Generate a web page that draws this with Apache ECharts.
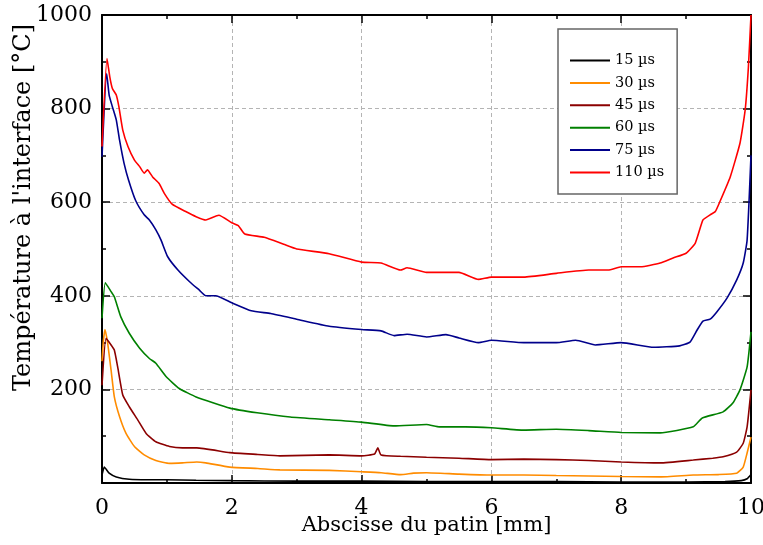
<!DOCTYPE html>
<html>
<head>
<meta charset="utf-8">
<script src="https://cdn.jsdelivr.net/npm/echarts@6/dist/echarts.min.js"></script>
<style>
  html, body { margin: 0; padding: 0; background: #fff; }
  #chart { width: 763px; height: 545px; }
</style>
</head>
<body>
<div id="chart"></div>
<script>
// abscisse [mm] et température [°C] pour chaque durée
const names = ['15 µs', '30 µs', '45 µs', '60 µs', '75 µs', '110 µs']
const colors = ['#000000', '#ff8c00', '#8b0000', '#008000', '#00008b', '#ff0000']

const x15 = [0, 0.035, 0.11, 0.22, 0.42, 0.7, 1, 1.45, 2, 3, 4, 5, 6, 7, 8, 9, 9.6, 9.85, 9.94, 10]
const t15 = [17, 34, 21, 13, 8, 7, 7, 6, 5, 4, 4, 3, 3, 3, 2, 2, 3, 5, 9, 18]

const x30 = [0, 0.02, 0.046, 0.088, 0.14, 0.19, 0.27, 0.37, 0.5, 0.65, 0.83, 1.04, 1.24, 1.46, 1.6, 1.97, 2.4, 2.74, 3.5, 4, 4.3, 4.6, 4.8, 5, 5.5, 6, 6.5, 7, 7.5, 8, 8.6, 9.11, 9.5, 9.78, 9.88, 9.94, 10]
const t30 = [260, 302, 328, 298, 241, 184, 142, 106, 78, 60, 48, 42, 43, 45, 43, 34, 31, 28, 27, 24, 22, 18, 21, 22, 19, 17, 17, 16, 15, 14, 13, 17, 18, 21, 34, 64, 98]

const x45 = [0, 0.062, 0.14, 0.19, 0.24, 0.32, 0.42, 0.55, 0.68, 0.83, 1.04, 1.24, 1.46, 1.97, 2.4, 2.74, 3.5, 4, 4.2, 4.25, 4.3, 4.6, 5, 5.5, 6, 6.5, 7, 7.5, 8, 8.6, 9.11, 9.41, 9.57, 9.78, 9.88, 9.94, 10]
const t45 = [209, 309, 295, 284, 249, 188, 163, 135, 106, 88, 78, 75, 75, 65, 61, 58, 60, 58, 62, 75, 60, 57, 55, 53, 50, 51, 50, 48, 45, 43, 49, 53, 56, 66, 85, 120, 199]

const x60 = [0, 0.051, 0.14, 0.19, 0.29, 0.42, 0.58, 0.73, 0.83, 0.99, 1.19, 1.45, 1.97, 2.39, 2.9, 3.5, 4, 4.5, 5, 5.2, 5.6, 6, 6.5, 7, 7.5, 8, 8.6, 9.11, 9.25, 9.57, 9.72, 9.83, 9.94, 10]
const t60 = [352, 428, 409, 398, 355, 320, 288, 266, 256, 227, 202, 184, 160, 150, 141, 135, 130, 122, 125, 120, 120, 118, 113, 115, 112, 108, 107, 120, 139, 152, 171, 199, 248, 323]

const x75 = [0, 0.072, 0.11, 0.16, 0.22, 0.27, 0.34, 0.41, 0.52, 0.65, 0.73, 0.83, 0.91, 1.01, 1.17, 1.35, 1.5, 1.6, 1.75, 2, 2.3, 2.6, 3, 3.5, 4, 4.3, 4.5, 4.7, 5, 5.3, 5.5, 5.8, 6, 6.5, 7, 7.3, 7.6, 8, 8.5, 8.9, 9.06, 9.17, 9.26, 9.37, 9.47, 9.63, 9.78, 9.88, 9.94, 10]
const t75 = [697, 875, 829, 804, 776, 733, 683, 647, 603, 573, 562, 541, 519, 484, 455, 430, 412, 400, 400, 385, 368, 362, 350, 335, 328, 325, 315, 318, 312, 317, 310, 300, 305, 300, 300, 305, 295, 300, 290, 293, 301, 327, 346, 350, 365, 395, 434, 470, 519, 700]

const x110 = [0, 0.077, 0.12, 0.16, 0.22, 0.26, 0.32, 0.4, 0.5, 0.58, 0.65, 0.7, 0.78, 0.88, 0.96, 1.08, 1.29, 1.45, 1.6, 1.8, 2, 2.1, 2.2, 2.5, 2.8, 3, 3.5, 4, 4.3, 4.6, 4.7, 5, 5.5, 5.8, 6, 6.5, 7, 7.5, 7.8, 8, 8.3, 8.6, 8.8, 9, 9.14, 9.26, 9.37, 9.45, 9.52, 9.68, 9.83, 9.91, 9.96, 10]
const t110 = [719, 907, 868, 843, 829, 804, 754, 719, 690, 676, 662, 669, 654, 640, 619, 596, 580, 569, 562, 572, 556, 550, 532, 525, 510, 500, 490, 472, 470, 455, 460, 450, 450, 435, 440, 440, 448, 455, 455, 462, 462, 470, 481, 491, 512, 562, 573, 580, 601, 654, 726, 797, 889, 1000]

const xs = [x15, x30, x45, x60, x75, x110]
const ts = [t15, t30, t45, t60, t75, t110]

const font = 'DejaVu Serif'
const chart = echarts.init(document.getElementById('chart'))

const tickStyle = { show: true, inside: true, length: 8, lineStyle: { color: '#000', width: 1.5 } }
const minorStyle = { show: true, splitNumber: 2, length: 4, lineStyle: { color: '#000', width: 1.5 } }
const lineStyle = { show: true, onZero: false, lineStyle: { color: '#000', width: 2 } }
const gridLine = { show: true, lineStyle: { color: '#b4b4b4', type: [4, 3], width: 1 } }

chart.setOption({
  animation: false,
  textStyle: { fontFamily: font },
  grid: { left: 102, right: 12, top: 15, bottom: 62, containLabel: false, outerBoundsMode: 'none' },
  legend: {
    left: 558, top: 29,
    orient: 'vertical',
    backgroundColor: '#fff',
    borderColor: '#666', borderWidth: 1.5, borderRadius: 0,
    padding: [24, 13, 14, 12],
    icon: 'rect',
    itemWidth: 40, itemHeight: 2, itemGap: 7.4,
    textStyle: { fontFamily: font, fontSize: 14.5, lineHeight: 14, color: '#000' },
    data: names
  },
  xAxis: [{
    type: 'value', min: 0, max: 10, interval: 2,
    name: 'Abscisse du patin [mm]', nameLocation: 'middle', nameGap: 32, nameMoveOverlap: false,
    nameTextStyle: { fontFamily: font, fontSize: 21, color: '#000' },
    axisLine: lineStyle, axisTick: tickStyle, minorTick: minorStyle,
    splitLine: gridLine,
    axisLabel: { fontFamily: font, fontSize: 22, color: '#000', margin: 14 }
  }, {
    type: 'value', min: 0, max: 10, interval: 2, position: 'top',
    axisLine: lineStyle, axisTick: tickStyle, minorTick: minorStyle,
    splitLine: { show: false }, axisLabel: { show: false }
  }],
  yAxis: [{
    type: 'value', min: 0, max: 1000, interval: 200,
    name: 'Température à l\'interface [°C]', nameLocation: 'middle', nameGap: 66, nameMoveOverlap: false,
    nameTextStyle: { fontFamily: font, fontSize: 24, color: '#000', padding: [0, 0, 0, 83] },
    axisLine: lineStyle, axisTick: tickStyle, minorTick: minorStyle,
    splitLine: gridLine,
    axisLabel: {
      fontFamily: font, fontSize: 22, color: '#000', margin: 10,
      formatter: v => v === 0 ? '' : String(v)
    }
  }, {
    type: 'value', min: 0, max: 1000, interval: 200, position: 'right',
    axisLine: lineStyle, axisTick: tickStyle, minorTick: minorStyle,
    splitLine: { show: false }, axisLabel: { show: false }
  }],
  series: names.map((n, i) => ({
    name: n,
    type: 'line',
    symbol: 'none',
    smooth: 0.15,
    color: colors[i],
    lineStyle: { width: 1.6, color: colors[i] },
    data: xs[i].map((x, j) => [x, ts[i][j]]),
    z: 2 + i
  }))
})
</script>
</body>
</html>
